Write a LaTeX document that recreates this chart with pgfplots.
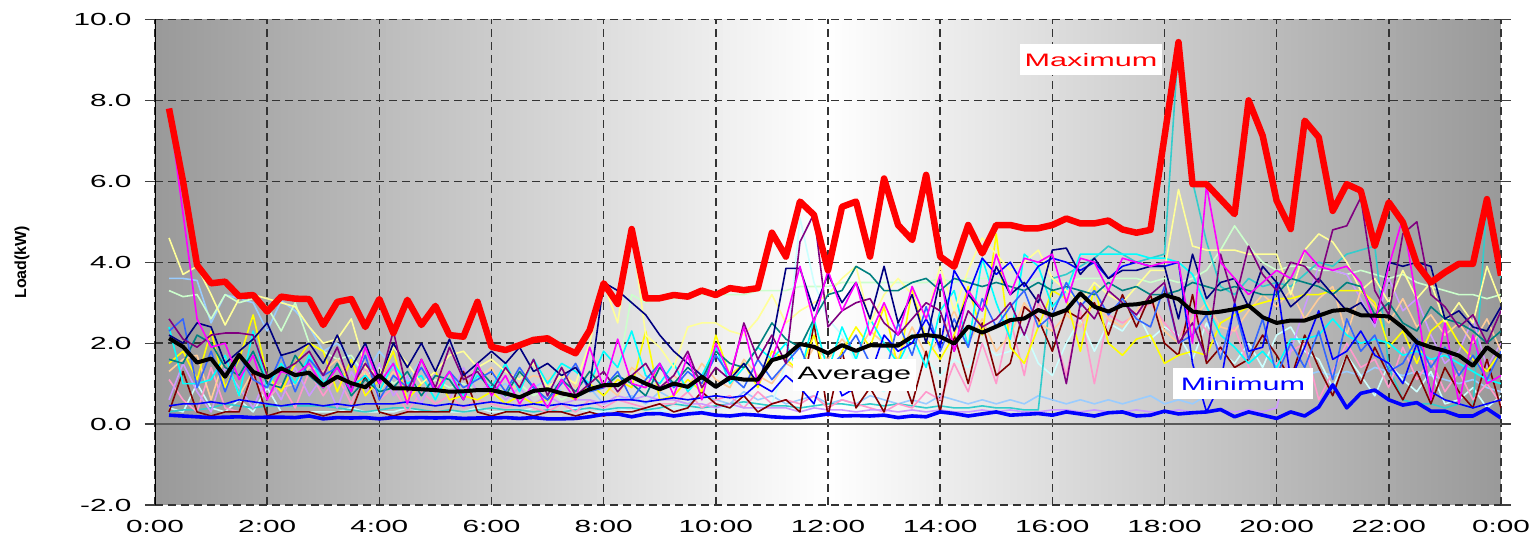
\documentclass[border=0pt]{standalone}
\usepackage{fontspec}
\setmainfont{Liberation Sans}
\newfontfamily\wide{Liberation Sans}[FakeStretch=1.7]
\usepackage{pgfplots}
\pgfplotsset{compat=1.18}
\definecolor{cMag}{HTML}{FF00FF}
\definecolor{cLYel}{HTML}{FFFF99}
\definecolor{cLBlu}{HTML}{99CCFF}
\definecolor{cPGrn}{HTML}{CCFFCC}
\definecolor{cNavy}{HTML}{000080}
\definecolor{cTurq}{HTML}{33CCCC}
\definecolor{cTeal}{HTML}{008080}
\definecolor{cPurp}{HTML}{800080}
\definecolor{cYel}{HTML}{FFFF00}
\definecolor{cCyan}{HTML}{00FFFF}
\definecolor{cOrg}{HTML}{FFCC99}
\definecolor{cDRed}{HTML}{800000}
\definecolor{cPink}{HTML}{FF99CC}
\definecolor{cLav}{HTML}{CC99FF}
\definecolor{cLCyan}{HTML}{CCFFFF}
\definecolor{cBlue}{HTML}{0000FF}
\definecolor{cRBlu}{HTML}{3366FF}
\newcommand{\series}[3]{\addplot[color=#1, line width=#2, line join=round] table[x expr=\coordindex*0.25+0.25, y index=0, header=false, row sep=\\] {#3};}
\begin{document}
\begin{tikzpicture}
% background gradient (dark at both ends, white at midday)
\foreach \i in {0,...,191} {
  \pgfmathsetmacro\c{40*abs(\i+0.5-96)/96}
  \pgfmathsetmacro\xa{\i/192*1346}
  \pgfmathsetmacro\xb{(\i+1)/192*1346+0.4}
  \fill[black!\c] (\xa pt,0pt) rectangle (\xb pt,485.5pt);
}
\begin{axis}[
  scale only axis, width=1346pt, height=485.5pt,
  xmin=0, xmax=24, ymin=-2, ymax=10,
  xtick={0,2,...,24},
  xticklabels={0:00,2:00,4:00,6:00,8:00,10:00,12:00,14:00,16:00,18:00,20:00,22:00,0:00},
  ytick={-2,0,...,10},
  yticklabels={-2.0,0.0,2.0,4.0,6.0,8.0,10.0},
  ticklabel style={font=\wide\fontsize{17.5}{19}\selectfont},
  x tick style={draw=none},
  y tick style={draw=black!75, line width=1.3pt},
  tick align=outside, major tick length=10pt,
  yticklabel style={xshift=-10pt},
  xticklabel style={yshift=-2pt},
  grid=major,
  grid style={draw=black!80, line width=1.4pt, dash pattern=on 8pt off 5pt},
  axis line style={draw=none},
  extra y ticks={0}, extra y tick labels={},
  extra tick style={grid style={solid, draw=black!65, line width=1.7pt}},
]
% thin customer series
\series{cLBlu}{1.6pt}{3.6\\3.6\\3.55\\2.5\\3.2\\3.1\\3.0\\2.3\\3.05\\2.8\\2.4\\1.8\\2.0\\1.6\\1.2\\1.8\\1.4\\1.1\\1.6\\0.9\\1.2\\0.7\\1.3\\0.8\\1.0\\0.6\\0.9\\1.1\\0.8\\0.6\\0.9\\0.5\\0.6\\0.7\\0.5\\0.8\\0.6\\0.5\\0.7\\0.6\\0.5\\0.8\\0.6\\0.7\\0.5\\0.6\\0.7\\0.5\\0.6\\0.5\\0.7\\0.6\\0.5\\0.6\\0.5\\0.7\\0.6\\0.5\\0.6\\0.5\\0.6\\0.5\\0.7\\0.6\\0.5\\0.6\\0.5\\0.6\\0.5\\0.6\\0.7\\0.5\\0.6\\0.5\\0.7\\0.8\\0.9\\0.8\\0.9\\1.0\\1.0\\1.2\\1.3\\1.2\\1.3\\1.2\\1.4\\1.3\\1.2\\1.3\\1.2\\1.1\\1.0\\1.1\\0.9\\0.8\\}
\series{cPGrn}{1.6pt}{3.3\\3.15\\3.2\\2.6\\3.2\\3.0\\3.1\\2.9\\2.3\\3.0\\2.0\\1.8\\1.6\\1.7\\1.2\\1.4\\1.0\\1.2\\0.8\\1.1\\0.9\\1.0\\0.8\\0.9\\0.8\\1.0\\0.7\\0.9\\0.6\\0.8\\0.9\\1.0\\1.2\\3.2\\3.0\\3.1\\3.1\\3.2\\3.2\\3.2\\3.2\\3.2\\3.3\\3.3\\3.3\\3.4\\3.4\\3.4\\3.5\\3.5\\3.5\\3.5\\3.5\\3.5\\3.5\\3.6\\3.5\\3.6\\3.6\\3.6\\3.5\\3.5\\3.6\\3.6\\3.5\\3.6\\3.6\\3.6\\3.6\\3.6\\3.5\\3.6\\3.5\\3.6\\3.8\\4.3\\4.9\\4.4\\4.0\\3.8\\3.9\\3.9\\3.8\\3.8\\3.7\\3.8\\3.7\\3.6\\3.7\\3.5\\3.4\\3.3\\3.2\\3.2\\3.1\\3.2\\}
\series{cLCyan}{1.6pt}{0.4\\0.3\\1.0\\0.4\\0.3\\0.6\\0.3\\0.9\\0.3\\0.3\\0.3\\0.3\\0.3\\0.4\\0.3\\0.3\\0.3\\0.4\\0.3\\0.3\\0.3\\0.3\\0.4\\0.3\\0.3\\0.3\\0.4\\0.3\\0.3\\0.4\\0.3\\0.3\\0.4\\0.3\\0.4\\0.3\\0.4\\0.4\\0.3\\0.4\\0.4\\0.5\\0.4\\0.5\\1.5\\5.1\\3.5\\2.6\\2.2\\1.5\\1.0\\0.8\\1.3\\1.9\\1.6\\1.2\\1.6\\1.4\\2.0\\1.7\\1.8\\2.3\\1.5\\1.2\\2.0\\2.6\\1.8\\2.5\\2.3\\2.8\\2.1\\2.4\\2.2\\1.6\\2.5\\1.8\\1.5\\2.0\\1.4\\2.2\\2.4\\1.8\\1.6\\0.9\\1.7\\1.2\\0.7\\1.5\\1.1\\0.8\\1.3\\0.5\\0.6\\0.9\\0.4\\0.7\\}
\series{cTurq}{1.6pt}{0.3\\0.35\\0.35\\0.4\\0.5\\0.45\\0.4\\0.45\\0.45\\0.45\\0.45\\0.45\\0.4\\0.35\\0.3\\0.35\\0.4\\0.4\\0.35\\0.3\\0.35\\0.3\\0.35\\0.4\\0.35\\0.35\\0.3\\0.35\\0.3\\0.35\\0.4\\0.35\\0.4\\0.4\\0.35\\0.4\\0.5\\0.45\\0.4\\0.45\\0.5\\0.55\\0.5\\0.45\\0.45\\0.4\\0.45\\0.5\\0.5\\0.45\\0.5\\0.45\\0.5\\0.45\\0.4\\0.45\\0.4\\0.4\\0.45\\0.4\\0.4\\0.35\\0.35\\3.6\\3.7\\3.9\\4.1\\4.4\\4.2\\4.0\\4.1\\4.2\\9.4\\6.0\\4.5\\3.4\\3.2\\3.6\\3.4\\3.5\\3.4\\3.7\\4.0\\3.9\\4.2\\4.3\\4.4\\1.4\\0.6\\0.5\\0.5\\0.4\\0.5\\0.4\\5.5\\3.6\\}
\series{cPink}{1.6pt}{1.1\\0.6\\0.3\\1.4\\0.4\\0.3\\1.2\\0.6\\1.0\\0.4\\1.3\\0.7\\1.2\\0.5\\1.4\\0.6\\0.9\\0.3\\0.8\\0.5\\0.7\\0.4\\0.6\\0.5\\0.4\\0.5\\0.4\\0.3\\0.5\\0.3\\0.6\\0.4\\0.6\\0.5\\0.4\\0.5\\0.5\\0.8\\0.4\\0.6\\0.7\\0.4\\0.8\\0.5\\0.6\\0.5\\0.7\\0.4\\0.6\\0.5\\0.4\\0.3\\0.5\\0.4\\0.8\\0.6\\1.5\\0.8\\2.0\\1.0\\2.6\\1.2\\3.0\\2.4\\1.2\\2.8\\1.0\\2.7\\2.5\\2.7\\3.0\\2.5\\2.1\\2.8\\2.3\\1.8\\2.4\\1.4\\0.7\\1.5\\1.8\\2.0\\0.6\\1.3\\2.0\\1.4\\1.6\\0.9\\1.9\\1.1\\1.6\\0.8\\1.3\\0.6\\1.0\\0.5\\}
\series{cLav}{1.6pt}{0.6\\1.5\\0.8\\0.3\\1.4\\0.9\\0.4\\1.2\\0.6\\1.4\\0.7\\1.2\\0.4\\1.3\\0.7\\1.5\\0.7\\1.2\\0.5\\1.3\\0.6\\1.4\\0.8\\1.0\\0.6\\0.9\\0.5\\0.7\\0.5\\0.6\\0.6\\0.5\\0.7\\0.6\\0.7\\0.6\\0.6\\0.5\\0.5\\0.4\\0.5\\0.4\\0.4\\0.4\\0.4\\0.3\\0.4\\0.35\\0.35\\0.3\\0.35\\0.35\\0.3\\0.35\\0.3\\0.35\\0.3\\0.3\\0.35\\0.3\\0.35\\0.3\\0.3\\0.35\\0.35\\0.3\\0.35\\0.3\\0.3\\0.35\\0.3\\0.3\\0.35\\0.3\\0.3\\0.35\\0.3\\0.35\\0.3\\0.4\\1.8\\2.9\\3.9\\3.8\\3.7\\3.1\\2.4\\3.6\\2.8\\3.1\\2.2\\1.5\\1.8\\2.6\\1.4\\2.0\\}
\series{cOrg}{1.6pt}{1.3\\1.6\\1.7\\0.6\\1.7\\0.7\\1.3\\1.1\\0.9\\1.0\\1.4\\1.3\\1.6\\1.0\\1.3\\0.8\\1.3\\0.8\\1.6\\0.9\\1.2\\0.9\\1.1\\1.4\\0.8\\1.0\\1.2\\1.1\\1.4\\0.9\\1.3\\1.0\\0.7\\1.4\\1.1\\0.8\\1.2\\0.9\\1.5\\1.1\\0.9\\1.6\\1.2\\1.0\\1.5\\1.3\\1.9\\1.6\\2.1\\1.7\\2.3\\2.0\\1.6\\2.4\\1.7\\2.1\\2.8\\2.0\\2.6\\1.8\\2.2\\3.0\\2.5\\2.3\\2.7\\2.4\\3.0\\2.6\\2.4\\2.8\\3.2\\2.3\\2.0\\2.6\\3.0\\2.4\\2.3\\2.8\\3.2\\2.9\\3.3\\2.6\\3.1\\3.4\\2.2\\3.3\\2.9\\2.5\\3.1\\2.4\\2.7\\2.2\\2.5\\2.0\\2.6\\1.8\\}
\series{cDRed}{1.6pt}{0.3\\1.3\\0.3\\0.2\\0.3\\0.3\\1.3\\0.2\\0.3\\0.3\\0.3\\0.2\\0.3\\0.3\\1.2\\0.3\\0.2\\0.3\\0.3\\0.3\\0.3\\1.3\\0.3\\0.2\\0.3\\0.3\\0.2\\0.3\\0.3\\0.2\\0.3\\0.2\\0.3\\0.3\\0.4\\0.5\\0.3\\0.4\\0.8\\0.5\\0.4\\0.7\\0.3\\0.5\\0.6\\0.3\\2.5\\0.2\\1.8\\0.4\\0.9\\0.3\\1.5\\0.5\\1.8\\0.3\\2.2\\1.0\\2.5\\1.2\\1.5\\2.9\\2.6\\1.8\\2.8\\2.6\\3.0\\2.2\\3.2\\2.4\\3.2\\2.0\\1.7\\3.2\\1.5\\1.9\\1.4\\1.6\\2.2\\1.7\\1.1\\2.2\\1.4\\0.7\\1.7\\1.0\\1.9\\1.2\\0.6\\1.3\\0.5\\1.4\\0.8\\0.4\\1.6\\0.4\\}
\series{cYel}{1.6pt}{1.5\\1.8\\1.1\\2.3\\0.9\\1.6\\2.7\\1.2\\0.8\\1.5\\2.0\\1.8\\0.8\\1.6\\0.7\\1.1\\1.8\\0.6\\1.0\\1.3\\0.6\\0.7\\0.6\\0.8\\0.5\\0.7\\0.5\\0.6\\0.8\\0.6\\1.0\\0.7\\1.1\\0.9\\2.3\\0.6\\0.7\\1.1\\0.8\\2.2\\1.2\\1.5\\0.9\\1.8\\1.6\\1.3\\2.2\\1.0\\1.8\\2.4\\1.9\\2.9\\1.4\\3.3\\2.1\\1.6\\2.2\\3.4\\2.2\\4.7\\1.9\\1.5\\2.4\\3.3\\3.1\\1.8\\3.4\\2.0\\1.7\\2.1\\2.2\\1.5\\1.7\\1.8\\1.7\\2.5\\2.7\\2.9\\3.0\\3.1\\3.1\\3.2\\3.2\\3.3\\3.3\\3.3\\3.0\\1.9\\2.3\\1.5\\2.3\\2.6\\2.0\\1.6\\1.3\\1.8\\}
\series{cCyan}{1.6pt}{2.4\\1.0\\1.0\\1.1\\1.7\\0.7\\2.3\\0.9\\1.5\\1.0\\1.7\\1.0\\1.4\\0.9\\1.2\\0.8\\1.5\\1.0\\1.2\\0.6\\1.3\\0.7\\1.2\\0.9\\1.5\\0.8\\1.6\\1.0\\1.5\\1.3\\1.0\\1.8\\1.4\\2.3\\1.2\\1.0\\1.5\\0.8\\1.2\\1.9\\1.0\\1.4\\1.9\\1.6\\2.0\\1.2\\2.6\\1.3\\2.4\\1.6\\2.6\\2.0\\1.5\\2.2\\1.4\\2.8\\3.3\\1.9\\4.1\\3.0\\2.1\\4.2\\3.9\\2.9\\3.3\\4.2\\4.2\\4.2\\4.2\\4.2\\4.1\\4.1\\4.0\\3.7\\2.9\\2.2\\1.9\\1.5\\1.8\\1.4\\2.1\\2.1\\2.2\\2.6\\2.2\\2.0\\2.1\\2.0\\1.7\\1.8\\1.6\\1.7\\1.5\\1.3\\1.1\\1.0\\}
\series{cLYel}{1.6pt}{4.6\\3.7\\3.9\\3.2\\2.45\\3.1\\3.2\\3.1\\3.0\\2.9\\2.4\\2.0\\2.1\\2.6\\1.4\\1.2\\1.9\\1.5\\1.0\\1.3\\1.7\\1.8\\1.4\\1.6\\1.3\\1.1\\1.5\\0.9\\1.2\\1.0\\2.0\\3.5\\2.5\\4.8\\2.2\\1.9\\1.4\\2.4\\2.5\\2.5\\2.3\\2.2\\2.6\\3.2\\2.5\\2.8\\3.0\\3.2\\3.6\\3.9\\2.5\\3.2\\3.6\\3.2\\2.6\\3.9\\2.8\\3.8\\4.6\\4.2\\3.8\\4.0\\4.3\\3.6\\3.3\\3.0\\3.5\\3.2\\3.0\\3.4\\3.8\\3.8\\5.8\\4.4\\4.3\\4.3\\4.3\\4.2\\4.2\\4.2\\3.2\\4.3\\4.7\\4.5\\4.0\\3.3\\3.6\\3.0\\3.8\\3.1\\3.5\\2.5\\3.0\\2.5\\3.9\\3.0\\}
\series{cTeal}{1.6pt}{1.6\\1.5\\2.2\\2.0\\1.4\\1.2\\1.8\\1.0\\0.9\\1.7\\1.2\\0.9\\1.5\\0.7\\1.1\\0.8\\0.9\\1.3\\0.7\\1.2\\1.1\\0.6\\1.4\\1.0\\0.7\\1.3\\0.9\\0.6\\1.1\\0.8\\1.3\\0.9\\1.2\\1.0\\0.7\\1.4\\1.0\\1.4\\1.1\\1.8\\1.5\\1.4\\1.9\\2.5\\2.1\\1.9\\2.6\\3.2\\3.3\\3.9\\3.7\\3.3\\3.3\\3.5\\3.6\\3.3\\3.6\\3.5\\3.4\\3.5\\3.4\\3.3\\3.5\\3.3\\3.4\\3.3\\3.2\\3.5\\3.3\\3.4\\3.2\\3.2\\3.3\\3.5\\3.4\\3.3\\3.4\\3.3\\3.2\\3.2\\3.6\\3.5\\3.4\\3.2\\3.5\\3.4\\2.7\\3.0\\2.5\\2.3\\2.9\\2.6\\2.5\\2.3\\2.0\\2.3\\}
\series{cRBlu}{1.6pt}{2.3\\2.6\\0.9\\1.8\\0.8\\1.7\\1.1\\0.9\\1.7\\0.8\\1.6\\1.2\\1.4\\0.8\\1.7\\0.6\\1.2\\0.9\\1.4\\0.8\\1.3\\0.9\\1.1\\1.3\\0.8\\1.4\\0.9\\0.6\\1.0\\1.5\\0.8\\0.9\\1.3\\0.6\\1.1\\1.5\\0.9\\1.3\\1.0\\1.7\\1.2\\0.9\\1.6\\1.1\\1.5\\1.9\\1.1\\1.4\\1.7\\2.2\\1.5\\1.1\\2.5\\1.7\\2.9\\1.8\\2.6\\1.9\\3.1\\2.4\\2.9\\3.3\\2.4\\2.7\\3.5\\2.9\\3.3\\2.7\\3.1\\2.6\\2.4\\3.4\\2.0\\2.2\\2.7\\1.6\\2.9\\1.6\\2.6\\1.2\\2.0\\1.4\\2.3\\1.1\\2.6\\1.8\\2.2\\1.3\\1.5\\2.1\\1.4\\1.9\\1.2\\1.7\\1.1\\1.8\\}
\series{cBlue}{1.6pt}{0.45\\0.5\\0.5\\0.55\\0.5\\0.6\\0.55\\0.5\\0.45\\0.5\\0.5\\0.45\\0.5\\0.45\\0.5\\0.5\\0.5\\0.55\\0.5\\0.45\\0.5\\0.45\\0.5\\0.55\\0.5\\0.45\\0.5\\0.45\\0.5\\0.45\\0.5\\0.55\\0.6\\0.6\\0.55\\0.6\\0.65\\0.6\\0.65\\0.7\\0.65\\0.7\\1.0\\0.8\\1.2\\0.9\\0.5\\1.6\\0.7\\0.9\\1.2\\2.2\\1.8\\2.0\\2.6\\1.9\\3.8\\3.2\\4.1\\3.7\\4.0\\3.4\\3.9\\4.1\\4.0\\3.8\\4.0\\3.6\\3.9\\4.0\\3.9\\3.9\\4.0\\1.5\\0.3\\1.0\\3.0\\1.8\\1.9\\3.5\\1.1\\1.9\\2.8\\1.6\\1.8\\2.3\\1.7\\1.5\\1.0\\2.0\\0.8\\0.6\\0.5\\0.4\\0.5\\0.6\\}
\series{cNavy}{1.6pt}{2.2\\2.0\\2.5\\2.4\\1.5\\1.8\\2.1\\2.5\\1.7\\1.8\\2.0\\1.5\\2.2\\1.4\\2.0\\1.1\\2.0\\1.4\\2.0\\1.3\\2.1\\1.2\\1.5\\1.8\\1.5\\1.9\\1.3\\1.5\\1.2\\1.4\\0.9\\3.5\\3.3\\3.0\\2.7\\2.2\\1.8\\1.5\\1.2\\0.9\\1.1\\1.5\\1.0\\2.0\\3.85\\3.85\\2.8\\3.7\\3.0\\3.5\\2.6\\3.9\\2.5\\3.2\\2.0\\3.6\\2.3\\3.2\\2.8\\3.9\\3.2\\3.5\\3.0\\4.3\\4.35\\3.7\\4.1\\3.6\\3.8\\3.8\\3.9\\3.9\\2.6\\4.2\\3.1\\3.5\\3.6\\2.9\\3.9\\3.5\\2.9\\3.2\\3.6\\3.2\\2.8\\3.0\\2.5\\4.0\\3.9\\4.0\\3.9\\2.6\\2.8\\2.4\\2.3\\2.9\\}
\series{cPurp}{1.6pt}{2.6\\2.1\\1.9\\2.2\\2.25\\2.25\\2.2\\1.2\\1.3\\1.5\\1.8\\1.2\\1.9\\0.9\\1.5\\1.0\\2.3\\0.8\\1.6\\0.9\\1.9\\1.1\\1.3\\0.8\\1.4\\0.9\\1.6\\0.7\\1.4\\0.7\\1.0\\1.3\\0.8\\1.2\\1.5\\0.9\\1.2\\1.8\\0.9\\1.4\\1.1\\2.5\\1.6\\2.2\\1.5\\4.5\\5.2\\2.4\\2.8\\3.0\\3.1\\2.5\\2.2\\2.6\\3.0\\2.8\\1.8\\2.8\\2.4\\2.6\\3.0\\2.2\\3.2\\2.5\\1.0\\3.0\\2.6\\3.3\\3.0\\2.7\\3.2\\3.5\\2.0\\2.5\\1.6\\4.2\\3.0\\4.4\\3.7\\3.3\\4.0\\3.9\\3.5\\4.8\\4.9\\5.6\\3.3\\2.7\\4.7\\5.0\\3.2\\2.9\\2.4\\2.7\\2.0\\2.8\\}
\series{cMag}{1.6pt}{7.8\\5.2\\2.6\\1.9\\2.0\\1.1\\1.7\\0.6\\1.3\\1.2\\1.5\\0.9\\1.4\\0.8\\1.9\\1.0\\1.5\\0.5\\1.6\\0.8\\1.3\\0.6\\1.5\\0.7\\1.2\\0.5\\1.0\\0.4\\1.1\\0.6\\1.9\\0.9\\2.1\\1.0\\0.9\\1.5\\0.7\\1.7\\0.6\\2.0\\1.2\\2.4\\1.0\\1.6\\2.6\\3.9\\2.5\\3.8\\2.8\\3.5\\2.2\\3.0\\2.2\\3.4\\2.6\\3.7\\1.8\\3.3\\2.8\\4.2\\3.2\\4.1\\4.0\\4.2\\3.0\\4.1\\4.0\\3.3\\4.1\\4.0\\3.9\\4.0\\4.0\\2.0\\5.9\\4.0\\3.6\\3.2\\3.5\\3.8\\3.6\\4.3\\3.9\\3.8\\3.9\\3.5\\2.5\\3.9\\5.1\\3.0\\0.6\\2.5\\0.5\\2.2\\1.0\\1.2\\}
% Average
\series{black}{4pt}{2.12\\1.91\\1.52\\1.62\\1.17\\1.71\\1.29\\1.15\\1.38\\1.21\\1.27\\0.96\\1.17\\1.01\\0.91\\1.21\\0.88\\0.88\\0.86\\0.84\\0.80\\0.81\\0.84\\0.84\\0.76\\0.66\\0.82\\0.86\\0.76\\0.69\\0.86\\0.96\\0.96\\1.17\\1.00\\0.86\\1.00\\0.92\\1.17\\0.92\\1.15\\1.10\\1.10\\1.58\\1.68\\1.98\\1.91\\1.75\\1.95\\1.81\\1.95\\1.94\\1.94\\2.16\\2.20\\2.16\\1.99\\2.41\\2.26\\2.41\\2.57\\2.61\\2.82\\2.69\\2.82\\3.23\\2.90\\2.78\\2.94\\2.96\\3.02\\3.19\\3.09\\2.78\\2.74\\2.78\\2.84\\2.93\\2.64\\2.50\\2.56\\2.56\\2.68\\2.80\\2.83\\2.69\\2.68\\2.66\\2.39\\2.02\\1.90\\1.81\\1.69\\1.44\\1.90\\1.65\\}
% Minimum
\series{cBlue}{3.6pt}{0.22\\0.20\\0.18\\0.16\\0.17\\0.18\\0.16\\0.17\\0.17\\0.16\\0.20\\0.13\\0.16\\0.15\\0.16\\0.13\\0.16\\0.15\\0.16\\0.15\\0.16\\0.14\\0.15\\0.15\\0.16\\0.14\\0.16\\0.13\\0.13\\0.14\\0.18\\0.24\\0.25\\0.18\\0.25\\0.26\\0.20\\0.25\\0.28\\0.22\\0.20\\0.24\\0.22\\0.18\\0.16\\0.16\\0.20\\0.25\\0.20\\0.21\\0.20\\0.22\\0.16\\0.20\\0.18\\0.30\\0.26\\0.20\\0.25\\0.30\\0.22\\0.24\\0.26\\0.22\\0.30\\0.25\\0.20\\0.28\\0.30\\0.20\\0.22\\0.32\\0.25\\0.28\\0.30\\0.36\\0.18\\0.30\\0.22\\0.14\\0.30\\0.20\\0.42\\0.97\\0.40\\0.76\\0.84\\0.60\\0.47\\0.53\\0.32\\0.32\\0.20\\0.20\\0.38\\0.15\\}
% Maximum
\series{red}{6.5pt}{7.8\\6.0\\3.93\\3.48\\3.52\\3.16\\3.19\\2.78\\3.15\\3.10\\3.09\\2.45\\3.02\\3.09\\2.40\\3.09\\2.25\\3.07\\2.45\\2.92\\2.20\\2.16\\3.02\\1.91\\1.83\\1.95\\2.08\\2.12\\1.91\\1.75\\2.32\\3.48\\2.97\\4.82\\3.11\\3.11\\3.19\\3.15\\3.30\\3.19\\3.36\\3.31\\3.36\\4.73\\4.14\\5.50\\5.17\\3.80\\5.37\\5.50\\4.14\\6.07\\4.92\\4.55\\6.16\\4.14\\3.89\\4.92\\4.22\\4.92\\4.92\\4.84\\4.84\\4.92\\5.08\\4.96\\4.96\\5.03\\4.81\\4.73\\4.80\\7.10\\9.44\\5.93\\5.93\\5.56\\5.19\\8.00\\7.13\\5.52\\4.82\\7.50\\7.09\\5.27\\5.93\\5.77\\4.41\\5.48\\4.99\\3.96\\3.50\\3.75\\3.96\\3.96\\5.56\\3.67\\}
\draw[black, line width=1.4pt] (rel axis cs:0,0) -- (rel axis cs:0,1);
\node[fill=white, text=red, font=\wide\fontsize{18}{20}\selectfont, minimum width=142pt, minimum height=31pt, inner sep=2pt] at (axis cs:16.69,9.0) {Maximum};
\node[fill=white, text=black, font=\wide\fontsize{18}{20}\selectfont, minimum width=123pt, minimum height=32pt, inner sep=2pt] at (axis cs:12.47,1.22) {Average};
\node[fill=white, text=cBlue, font=\wide\fontsize{18}{20}\selectfont, minimum width=140pt, minimum height=31pt, inner sep=2pt] at (axis cs:19.4,1.0) {Minimum};
\end{axis}
\node[rotate=90, font=\bfseries\fontsize{16}{18}\selectfont] at (-133pt,242.75pt) {Load(kW)};
\pgfresetboundingbox
\path[use as bounding box] (-155pt,-35pt) rectangle (1380pt,505pt);
\end{tikzpicture}
\end{document}
